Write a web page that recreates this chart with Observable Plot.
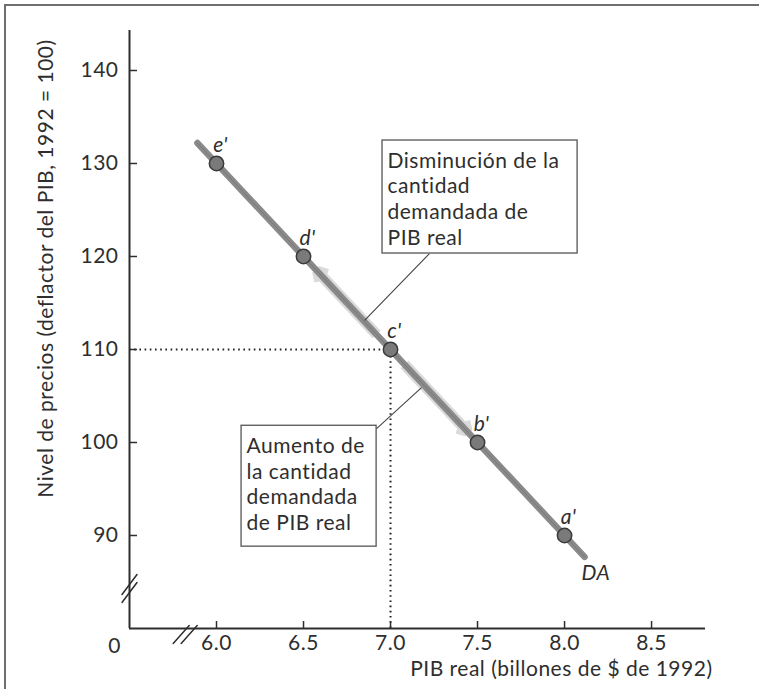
<!DOCTYPE html>
<html>
<head>
<meta charset="utf-8">
<script src="https://cdn.jsdelivr.net/npm/d3@7"></script>
<script src="https://cdn.jsdelivr.net/npm/@observablehq/plot@0.6"></script>
<style>
  html, body { margin: 0; padding: 0; background: #fff; }
  #wrap { position: relative; width: 759px; height: 689px; overflow: hidden; }
  #frame { position: absolute; left: 4px; top: 4px; width: 800px; height: 800px;
           border-top: 2px solid #6f6f6f; border-left: 2px solid #6f6f6f; pointer-events: none; }
  svg { font-family: Lato, "Noto Sans", sans-serif; }
  svg text { letter-spacing: 0.5px; }
</style>
</head>
<body>
<div id="wrap"><div id="frame"></div></div>
<script>
// ---- data ----
const pointLabels = ["e'", "d'", "c'", "b'", "a'"];
const gdp   = [6.0, 6.5, 7.0, 7.5, 8.0];      // PIB real (billones de $ de 1992)
const price = [130, 120, 110, 100, 90];       // Nivel de precios

// DA curve ends
const daX = [5.89, 8.115];
const daY = [132.2, 87.7];

const xTicks = [6.0, 6.5, 7.0, 7.5, 8.0, 8.5];
const yTicks = [90, 100, 110, 120, 130, 140];
const xDomain = [5.5, 8.81];
const yDomain = [80, 144.3];

// reference point c' (dotted guides)
const refX = [7.0];
const refY = [110];

// movement arrows along DA (start -> end)
const arrowX1 = [6.92, 7.08];
const arrowY1 = [111.6, 108.4];
const arrowX2 = [6.58, 7.44];
const arrowY2 = [118.4, 101.2];

// annotation boxes
const boxText = ["Disminución de la\ncantidad\ndemandada de\nPIB real",
                 "Aumento de\nla cantidad\ndemandada\nde PIB real"];
const boxX1 = [6.954, 6.144];
const boxX2 = [8.075, 6.920];
const boxY1 = [132.47, 101.8];   // top
const boxY2 = [120.32, 88.8];    // bottom

// leader lines from boxes to the curve
const leadX1 = [7.224, 6.920];
const leadY1 = [120.32, 101.5];
const leadX2 = [6.851, 7.178];
const leadY2 = [113.12, 105.9];

const xTitle = "PIB real (billones de $ de 1992)";
const yTitle = "Nivel de precios (deflactor del PIB, 1992 = 100)";
const curveLabel = "DA";

// ---- tables built from arrays ----
const pts = gdp.map((x, i) => ({x, y: price[i], label: pointLabels[i]}));
const da = daX.map((x, i) => ({x, y: daY[i]}));
const arrows = arrowX1.map((x1, i) => ({x1, y1: arrowY1[i], x2: arrowX2[i], y2: arrowY2[i]}));
const boxes = boxText.map((t, i) => ({t, x1: boxX1[i], x2: boxX2[i], y1: boxY1[i], y2: boxY2[i]}));
const leads = leadX1.map((x1, i) => ({x1, y1: leadY1[i], x2: leadX2[i], y2: leadY2[i]}));

const W = 759, H = 689;
const mL = 129, mR = 54, mT = 30, mB = 61;
const frameW = W - mL - mR, frameH = H - mT - mB;
const ink = "#2e2e2e";
const fs = 21;

const breakY = { draw(ctx) { for (const o of [-4, 4]) { ctx.moveTo(-7.5, 10 + o); ctx.lineTo(7.5, -10 + o); } } };
const breakX = { draw(ctx) { for (const o of [-4, 4]) { ctx.moveTo(-8 + o, 9); ctx.lineTo(8 + o, -9); } } };

const chart = Plot.plot({
  width: W, height: H,
  marginLeft: mL, marginRight: mR, marginTop: mT, marginBottom: mB,
  style: {fontSize: fs + "px", color: ink, background: "transparent", fontFamily: "Lato, 'Noto Sans', sans-serif"},
  x: {domain: xDomain, axis: null},
  y: {domain: yDomain, axis: null},
  marks: [
    // dotted guides to c'
    Plot.ruleY(refY, {x1: xDomain[0], x2: refX[0], stroke: "#222", strokeWidth: 2, strokeDasharray: "1.6,3.6"}),
    Plot.ruleX(refX, {y1: yDomain[0], y2: refY[0], stroke: "#222", strokeWidth: 2, strokeDasharray: "1.6,3.6"}),
    // movement arrows
    Plot.arrow(arrows, {x1: "x1", y1: "y1", x2: "x2", y2: "y2", stroke: "#dadada", strokeWidth: 11, headLength: 1.4, strokeLinecap: "butt"}),
    // DA curve
    Plot.line(da, {x: "x", y: "y", stroke: "#8a8a8a", strokeWidth: 6.5}),
    Plot.line(da, {x: "x", y: "y", stroke: "#6e6e6e", strokeWidth: 1, strokeOpacity: 0.6}),
    Plot.dot(pts, {x: "x", y: "y", r: 7.2, fill: "#7a7a7a", stroke: "#3a3a3a", strokeWidth: 1.5}),
    Plot.text(pts, {x: "x", y: "y", text: "label", dx: 4, dy: -18, fontStyle: "italic", fill: ink, fontSize: fs}),
    Plot.text(da.slice(-1), {x: "x", y: "y", text: () => curveLabel, textAnchor: "start", dx: -3, dy: 16, fontStyle: "italic", fill: ink, fontSize: fs}),
    // leaders and boxes
    Plot.link(leads, {x1: "x1", y1: "y1", x2: "x2", y2: "y2", stroke: "#444", strokeWidth: 1.1}),
    Plot.rect(boxes, {x1: "x1", x2: "x2", y1: "y1", y2: "y2", fill: "white", stroke: "#555", strokeWidth: 1.3}),
    Plot.text(boxes, {x: "x1", y: "y1", text: "t", textAnchor: "start", lineAnchor: "top", dx: 5, dy: 9, lineHeight: 1.22, fill: ink, fontSize: fs}),
    // axis lines
    Plot.ruleX([xDomain[0]], {stroke: ink, strokeWidth: 2}),
    Plot.ruleY([yDomain[0]], {stroke: ink, strokeWidth: 2}),
    // inward ticks
    Plot.tickX(xTicks, {x: d => d, insetTop: frameH - 7, stroke: ink, strokeWidth: 1.5}),
    Plot.tickY(yTicks, {y: d => d, insetRight: frameW - 8, stroke: ink, strokeWidth: 1.5}),
    // axis breaks
    Plot.vector([0], {frameAnchor: "bottom-left", dy: -46, shape: breakY, stroke: ink, strokeWidth: 1.5}),
    Plot.vector([0], {x: () => 5.82, frameAnchor: "bottom", shape: breakX, stroke: ink, strokeWidth: 1.5}),
    // tick labels
    Plot.axisX({ticks: xTicks, tickSize: 0, tickPadding: 7, tickFormat: d3.format(".1f"), label: null, fontSize: fs, fill: ink}),
    Plot.axisY({ticks: yTicks, tickSize: 0, tickPadding: 11, label: null, fontSize: fs, fill: ink}),
    Plot.text(["0"], {frameAnchor: "bottom-left", textAnchor: "middle", lineAnchor: "middle", dx: -15, dy: 18, fill: ink, fontSize: fs}),
    // titles
    Plot.text([xTitle], {frameAnchor: "bottom-right", textAnchor: "end", lineAnchor: "middle", dx: 7, dy: 41, fill: ink, fontSize: fs}),
    Plot.text([yTitle], {frameAnchor: "top-left", textAnchor: "middle", lineAnchor: "middle", rotate: -90, dx: -83, dy: 238, fill: ink, fontSize: fs})
  ]
});
document.getElementById("wrap").prepend(chart);
</script>
</body>
</html>
